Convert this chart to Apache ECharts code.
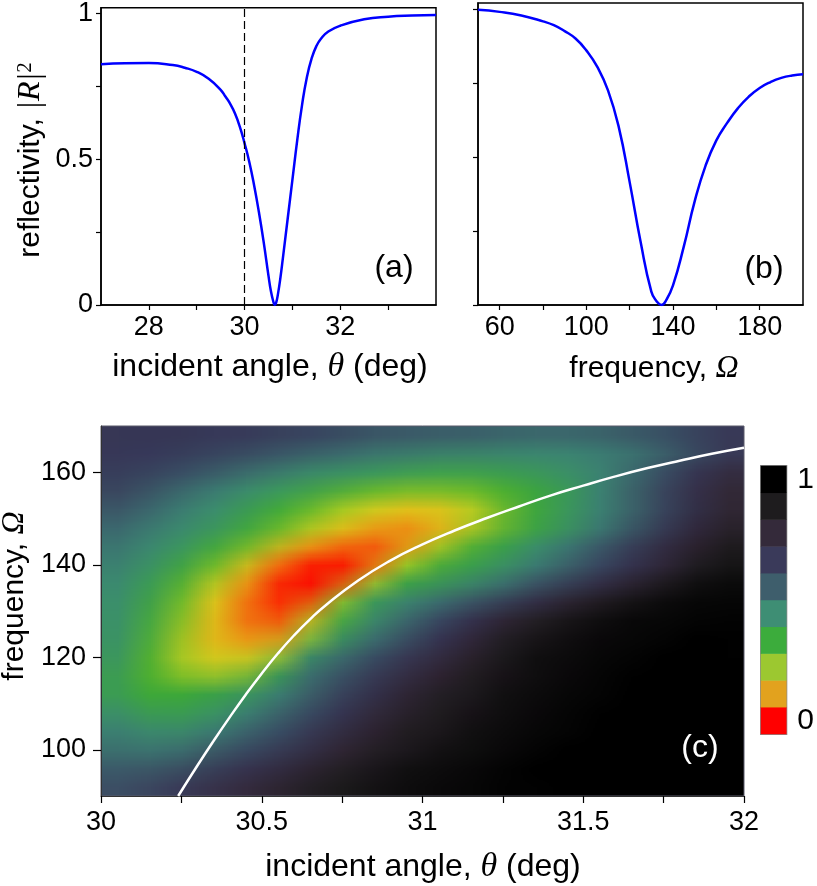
<!DOCTYPE html>
<html>
<head>
<meta charset="utf-8">
<script src="https://cdn.jsdelivr.net/npm/echarts@6/dist/echarts.min.js"></script>
<style>
  html, body { margin: 0; padding: 0; background: #fff; }
  #map { position: absolute; left: 101px; top: 426px; width: 643px; height: 370px; overflow: hidden; z-index: 1; }
  /* one canvas pixel per cell, scaled up by the browser (smooth) */
  #mapCells { width: 20px; height: 20px; transform-origin: 0 0; transform: scale(32.15, 18.5); }
  #main { position: absolute; left: 0; top: 0; width: 817px; height: 886px; z-index: 2; }
</style>
</head>
<body>
<div id="map"><div id="mapCells"></div></div>
<div id="main"></div>
<script>
const FONT = 'Liberation Sans';
const MATH = 'Liberation Serif';

// (a) reflectivity vs incident angle
const thetaA = [27, 27.5, 28, 28.5, 28.75, 29, 29.25, 29.5, 29.6, 29.7, 29.8, 29.9, 30, 30.1, 30.2, 30.3, 30.4, 30.5,
  30.55, 30.6, 30.63, 30.66, 30.7, 30.75, 30.8, 30.9, 31, 31.1, 31.2, 31.3, 31.4, 31.5, 31.6, 31.75, 32,
  32.5, 33, 33.5, 34];
const reflA = [0.826, 0.829, 0.83, 0.823, 0.814, 0.8, 0.776, 0.738, 0.715, 0.69, 0.657, 0.612, 0.555, 0.49, 0.41, 0.318,
  0.215, 0.1, 0.048, 0.012, 0.0, 0.008, 0.04, 0.095, 0.16, 0.295, 0.43, 0.565, 0.685, 0.78, 0.845, 0.888,
  0.914, 0.938, 0.958, 0.98, 0.989, 0.993, 0.995];

// (b) reflectivity vs frequency
const omegaB = [50, 60, 70, 80, 85, 90, 95, 100, 105, 110, 115, 120, 125, 130, 132.5, 134.6, 137, 140,
  145, 150, 155, 160, 165, 170, 175, 180, 185, 190, 195, 200];
const reflB = [0.997, 0.99, 0.978, 0.958, 0.945, 0.925, 0.9, 0.86, 0.805, 0.725, 0.6, 0.415, 0.215, 0.045, 0.012, 0.0,
  0.018, 0.066, 0.198, 0.35, 0.47, 0.556, 0.615, 0.665, 0.704, 0.733, 0.753, 0.767, 0.775, 0.779];

// (c) map: columns = angle, rows = frequency (top row first)
const thetaCells = [30.05, 30.15, 30.25, 30.35, 30.45, 30.55, 30.65, 30.75, 30.85, 30.95,
  31.05, 31.15, 31.25, 31.35, 31.45, 31.55, 31.65, 31.75, 31.85, 31.95];
const omegaRows = [168, 164, 160, 156, 152, 148, 144, 140, 136, 132, 128, 124, 120, 116, 112, 108, 104, 100, 96, 92];
const reflGrid = [
  [0.68,0.68,0.68,0.67,0.67,0.66,0.65,0.63,0.61,0.60,0.59,0.58,0.57,0.56,0.56,0.57,0.59,0.62,0.65,0.68],
  [0.67,0.67,0.66,0.65,0.63,0.61,0.58,0.56,0.53,0.51,0.50,0.49,0.48,0.47,0.47,0.48,0.50,0.53,0.58,0.65],
  [0.66,0.65,0.63,0.60,0.56,0.52,0.48,0.46,0.44,0.42,0.40,0.40,0.41,0.42,0.44,0.46,0.50,0.58,0.66,0.74],
  [0.64,0.61,0.56,0.51,0.46,0.43,0.40,0.37,0.34,0.32,0.32,0.32,0.33,0.35,0.38,0.45,0.53,0.62,0.70,0.78],
  [0.60,0.56,0.50,0.45,0.41,0.36,0.32,0.28,0.24,0.21,0.21,0.24,0.30,0.35,0.40,0.46,0.53,0.62,0.71,0.79],
  [0.55,0.51,0.47,0.43,0.38,0.33,0.28,0.23,0.18,0.11,0.13,0.20,0.28,0.33,0.38,0.45,0.53,0.63,0.73,0.82],
  [0.51,0.47,0.43,0.38,0.33,0.27,0.20,0.12,0.07,0.08,0.20,0.30,0.35,0.41,0.47,0.54,0.63,0.72,0.80,0.88],
  [0.49,0.44,0.39,0.33,0.25,0.12,0.04,0.01,0.04,0.22,0.31,0.35,0.39,0.45,0.51,0.58,0.66,0.74,0.82,0.90],
  [0.46,0.41,0.35,0.27,0.18,0.04,0.00,0.01,0.20,0.33,0.37,0.41,0.46,0.53,0.60,0.67,0.75,0.83,0.90,0.95],
  [0.45,0.39,0.32,0.22,0.10,0.03,0.01,0.25,0.38,0.43,0.48,0.53,0.60,0.67,0.75,0.82,0.88,0.93,0.96,0.97],
  [0.44,0.37,0.30,0.20,0.09,0.03,0.15,0.32,0.42,0.50,0.58,0.67,0.75,0.82,0.88,0.92,0.95,0.96,0.97,0.98],
  [0.44,0.36,0.28,0.18,0.10,0.08,0.25,0.38,0.47,0.56,0.66,0.74,0.83,0.89,0.92,0.95,0.96,0.97,0.98,0.99],
  [0.43,0.34,0.26,0.19,0.17,0.22,0.41,0.49,0.57,0.65,0.72,0.80,0.87,0.92,0.94,0.96,0.97,0.98,0.99,0.99],
  [0.41,0.33,0.27,0.24,0.25,0.36,0.49,0.57,0.64,0.71,0.78,0.84,0.90,0.93,0.95,0.97,0.98,0.99,0.99,1.00],
  [0.39,0.33,0.33,0.35,0.38,0.44,0.53,0.61,0.69,0.77,0.83,0.87,0.91,0.94,0.96,0.97,0.98,0.99,0.99,1.00],
  [0.43,0.37,0.36,0.39,0.44,0.51,0.58,0.66,0.74,0.81,0.86,0.90,0.93,0.95,0.97,0.98,0.99,0.99,1.00,1.00],
  [0.47,0.43,0.42,0.45,0.51,0.57,0.64,0.72,0.79,0.85,0.88,0.91,0.94,0.96,0.97,0.98,0.99,1.00,1.00,1.00],
  [0.50,0.48,0.48,0.53,0.58,0.63,0.69,0.76,0.82,0.87,0.90,0.93,0.95,0.97,0.98,0.99,1.00,1.00,1.00,1.00],
  [0.55,0.54,0.56,0.61,0.66,0.71,0.77,0.82,0.87,0.91,0.93,0.95,0.97,0.98,0.99,1.00,1.00,1.00,1.00,1.00],
  [0.60,0.62,0.66,0.71,0.75,0.80,0.85,0.89,0.92,0.94,0.96,0.97,0.98,0.99,1.00,1.00,1.00,1.00,1.00,1.00]
];

// white curve in (c)
const thetaLine = [30.24, 30.3, 30.35, 30.4, 30.45, 30.5, 30.55, 30.6, 30.65, 30.7, 30.8, 30.9, 31.0,
  31.1, 31.2, 31.3, 31.4, 31.5, 31.6, 31.7, 31.8, 31.9, 32.0];
const omegaLine = [90, 96.6, 101.9, 107, 111.9, 116.5, 120.8, 124.7, 128.2, 131.3, 136.6, 140.9, 144.4,
  147.4, 150.1, 152.6, 155, 157.1, 159.1, 160.9, 162.5, 164, 165.3];

// ticks and labels
const ticksA = [28, 29, 30, 31, 32, 33];
const labelsA = [28, 30, 32];
const ticksR = [0, 0.25, 0.5, 0.75, 1];
const labelsR = [0, 0.5, 1];
const ticksB = [60, 80, 100, 120, 140, 160, 180];
const labelsB = [60, 100, 140, 180];
const ticksC = [30, 30.25, 30.5, 30.75, 31, 31.25, 31.5, 31.75, 32];
const labelsC = [30, 30.5, 31, 31.5, 32];
const ticksOmega = [100, 120, 140, 160];
const markAngle = 30;

// colour scale
const barLevels = [0, 1, 2, 3, 4, 5, 6, 7, 8, 9];
const barColors = ['#ff0000', '#e2a21e', '#9cc830', '#3cac3c', '#3e8e74',
  '#3e5e6c', '#3a3a5a', '#342a3a', '#1e1c1e', '#000000'];
const mapColors = ['#ff0000', '#ec9a18', '#d8d820', '#3cac34', '#3e8c76',
  '#3e5e6c', '#3a3a5a', '#342a3a', '#1e1c1e', '#000000'];

// ---- smooth map (drawn small, scaled up by css) ----
const heatData = [];
reflGrid.forEach((row, r) => row.forEach((v, c) => heatData.push([c, r, v])));

const heat = echarts.init(document.getElementById('mapCells'), null, { renderer: 'canvas', devicePixelRatio: 1 });
heat.setOption({
  animation: false,
  grid: { left: 0, right: 0, top: 0, bottom: 0 },
  xAxis: { type: 'category', data: thetaCells, show: false },
  yAxis: { type: 'category', data: omegaRows, inverse: true, show: false },
  visualMap: { show: false, min: 0, max: 1, inRange: { color: mapColors } },
  series: [{ type: 'heatmap', data: heatData, progressive: 0 }]
});

// ---- main figure ----
function axis(gridIndex, min, max, ticks, labels, opt) {
  return {
    type: 'value', gridIndex: gridIndex, min: min, max: max,
    axisLine: { show: true, onZero: false, lineStyle: { color: opt.lineColor || '#000', width: opt.lineWidth || 1.5 } },
    axisTick: { show: true, customValues: ticks, length: opt.tickLen || 5, lineStyle: { color: '#000', width: 1.2 } },
    axisLabel: {
      show: !!labels, customValues: labels || undefined, margin: opt.margin || 9,
      color: '#000', fontSize: 27, fontFamily: FONT
    },
    splitLine: { show: false }
  };
}

const zip = (xs, ys) => xs.map((x, i) => [x, ys[i]]);

function label(x, y, text, rich, rotate, color) {
  return {
    type: 'text', x: x, y: y, rotation: rotate ? Math.PI / 2 : 0,
    style: { text: text, rich: rich, fill: color || '#000', align: 'center', verticalAlign: 'middle' }
  };
}

const titleRich = {
  n: { fontFamily: FONT, fontSize: 32, fill: '#000' },
  m: { fontFamily: MATH, fontStyle: 'italic', fontSize: 34, fill: '#000' }
};
const sideRich = {
  n: { fontFamily: FONT, fontSize: 30, fill: '#000' },
  m: { fontFamily: MATH, fontStyle: 'italic', fontSize: 32, fill: '#000' },
  s: { fontFamily: MATH, fontSize: 21, fill: '#000', verticalAlign: 'top' }
};
const tagRich = { t: { fontFamily: FONT, fontSize: 32 } };

const lineSmooth = 0.5;

const chart = echarts.init(document.getElementById('main'), null, { renderer: 'canvas', devicePixelRatio: 1 });
chart.setOption({
  animation: false,
  grid: [
    { left: 101, top: 3, width: 335, height: 302, show: true, borderColor: '#000', borderWidth: 1.5 },
    { left: 478, top: 3, width: 325, height: 302, show: true, borderColor: '#000', borderWidth: 1.5 },
    { left: 101, top: 426, width: 643, height: 370, show: true, borderColor: '#5a5a6a', borderWidth: 1 },
    { left: 761, top: 466, width: 28, height: 268, show: true, borderColor: '#8c8c8c', borderWidth: 2 }
  ],
  xAxis: [
    axis(0, 27, 34, ticksA, labelsA, { margin: 9 }),
    axis(1, 50, 200, ticksB, labelsB, { margin: 9 }),
    axis(2, 30, 32, ticksC, labelsC, { margin: 13, tickLen: 7, lineColor: '#333', lineWidth: 1 }),
    { type: 'category', gridIndex: 3, data: ['bar'], show: false }
  ],
  yAxis: [
    axis(0, 0, 1.02, ticksR, labelsR, { margin: 8 }),
    axis(1, 0, 1.02, ticksR, null, {}),
    axis(2, 90, 170, ticksOmega, ticksOmega, { margin: 15, tickLen: 8, lineColor: '#333', lineWidth: 1 }),
    {
      type: 'category', gridIndex: 3, data: barLevels, position: 'right',
      axisLine: { show: false }, axisTick: { show: false }, splitLine: { show: false },
      axisLabel: {
        interval: 0, margin: 11, fontSize: 30, fontFamily: FONT, color: '#000',
        formatter: (v, i) => (i === 0 ? '0' : i === barLevels.length - 1 ? '1' : '')
      }
    }
  ],
  visualMap: {
    show: false, seriesIndex: 3, min: 0, max: barLevels.length - 1,
    inRange: { color: barColors }
  },
  series: [
    {
      type: 'line', xAxisIndex: 0, yAxisIndex: 0, data: zip(thetaA, reflA),
      showSymbol: false, smooth: lineSmooth,
      lineStyle: { color: '#0000ff', width: 2.5 },
      markLine: {
        silent: true, symbol: 'none', label: { show: false },
        lineStyle: { color: '#000', width: 1.2, type: [8, 4] },
        data: [{ xAxis: markAngle }]
      }
    },
    {
      type: 'line', xAxisIndex: 1, yAxisIndex: 1, data: zip(omegaB, reflB),
      showSymbol: false, smooth: lineSmooth,
      lineStyle: { color: '#0000ff', width: 2.5 }
    },
    {
      type: 'line', xAxisIndex: 2, yAxisIndex: 2, data: zip(thetaLine, omegaLine),
      showSymbol: false, smooth: lineSmooth,
      lineStyle: { color: '#ffffff', width: 2.5 }
    },
    {
      type: 'heatmap', xAxisIndex: 3, yAxisIndex: 3,
      data: barLevels.map((lv, i) => [0, i, lv])
    }
  ],
  graphic: [
    label(270, 367, '{n|incident angle, }{m|θ}{n| (deg)}', titleRich),
    label(654, 369, '{n|frequency, }{m|Ω}', sideRich),
    label(423, 867, '{n|incident angle, }{m|θ}{n| (deg)}', titleRich),
    label(31, 160, '{n|reflectivity, }{m||R|}{s|2}', sideRich, true),
    label(15, 596, '{n|frequency, }{m|Ω}', sideRich, true),
    label(394, 268, '{t|(a)}', tagRich),
    label(764, 269, '{t|(b)}', tagRich),
    label(700, 748, '{t|(c)}', { t: { fontFamily: FONT, fontSize: 32, fill: '#fff' } }, false, '#fff')
  ]
});
</script>
</body>
</html>
